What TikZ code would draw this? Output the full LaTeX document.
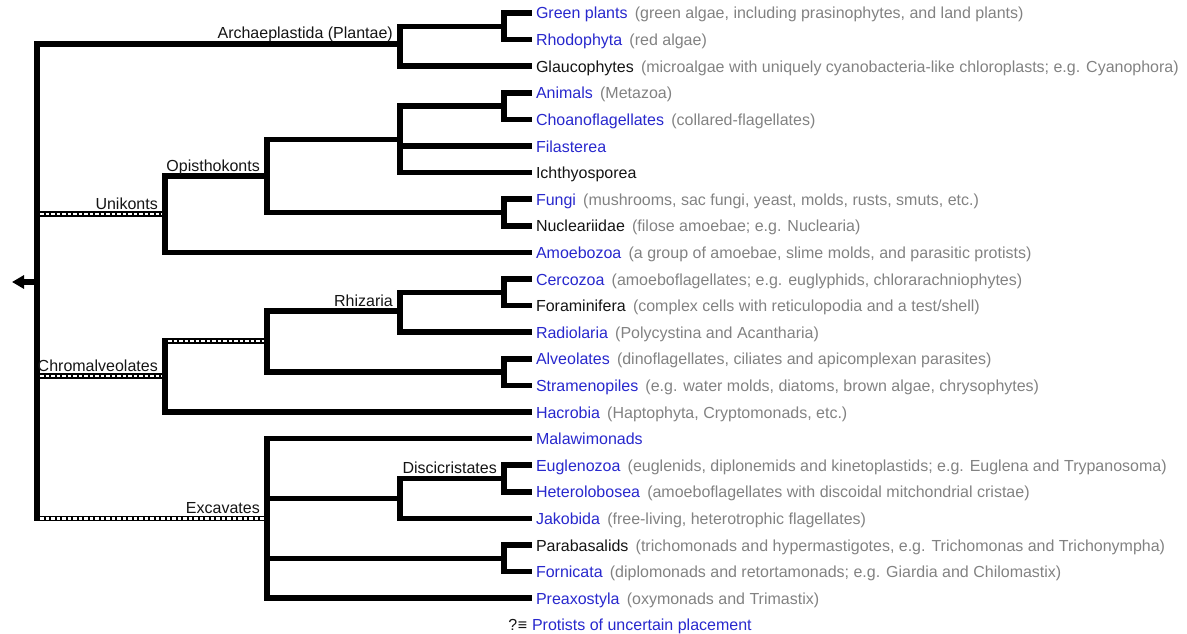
\documentclass[tikz,border=0pt]{standalone}
\usepackage{fontspec}
\setmainfont{Liberation Sans}
\usepackage{tikz}
\usetikzlibrary{arrows.meta, calc}
\definecolor{nameblue}{RGB}{40,40,205}
\definecolor{descgray}{RGB}{130,130,130}
\definecolor{nameblack}{RGB}{20,20,20}
\newcommand{\bluetaxon}[2]{\textcolor{nameblue}{#1}\hspace{0.45em}\textcolor{descgray}{#2}}
\newcommand{\blacktaxon}[2]{\textcolor{nameblack}{#1}\hspace{0.45em}\textcolor{descgray}{#2}}

\begin{document}
\begin{tikzpicture}[
    x=1pt, y=-1pt,
    font=\fontsize{16}{19}\selectfont,
    branch/.style={draw, line width=5.5pt, line cap=rect},
    hatch/.style={draw, line width=5.5pt,
        postaction={draw=white, line width=2.4pt, dash pattern=on 3.5pt off 2pt,
                    shorten <=3pt, shorten >=3pt}},
    leaf/.style={anchor=west, inner xsep=7pt, inner ysep=0pt, outer sep=0pt, text height=15pt, text depth=3pt},
    clade/.style={anchor=base east, inner sep=0pt, xshift=-7pt, yshift=5pt, text=nameblack}
]
\useasboundingbox (0,0) rectangle (1187,634);

% Clade nodes
\coordinate (root) at (37,282);
\coordinate (tip) at (12,282);
\coordinate (arch) at (400,44);
\coordinate (gpr) at (504,26.3);
\coordinate (unik) at (165,214);
\coordinate (opis) at (267,176);
\coordinate (holo) at (400,139.4);
\coordinate (anch) at (504,106.1);
\coordinate (funu) at (504,212.5);
\coordinate (chrom) at (165,376);
\coordinate (sar) at (267,341);
\coordinate (rhiz) at (400,311);
\coordinate (ceFo) at (504,292.3);
\coordinate (alst) at (504,372.1);
\coordinate (exca) at (267,518.4);
\coordinate (djak) at (400,498.5);
\coordinate (disc) at (504,478.5);
\coordinate (meta) at (504,558.3);

% Leaves
\node[leaf] (green) at (529,13) {\bluetaxon{Green plants}{(green algae, including prasinophytes, and land plants)}};
\node[leaf] (rhodo) at (529,39.6) {\bluetaxon{Rhodophyta}{(red algae)}};
\node[leaf] (glau) at (529,66.2) {\blacktaxon{Glaucophytes}{(microalgae with uniquely cyanobacteria-like chloroplasts; e.g. Cyanophora)}};
\node[leaf] (anim) at (529,92.8) {\bluetaxon{Animals}{(Metazoa)}};
\node[leaf] (choano) at (529,119.4) {\bluetaxon{Choanoflagellates}{(collared-flagellates)}};
\node[leaf] (fila) at (529,146) {\textcolor{nameblue}{Filasterea}};
\node[leaf] (ichth) at (529,172.6) {\textcolor{nameblack}{Ichthyosporea}};
\node[leaf] (fungi) at (529,199.2) {\bluetaxon{Fungi}{(mushrooms, sac fungi, yeast, molds, rusts, smuts, etc.)}};
\node[leaf] (nucl) at (529,225.8) {\blacktaxon{Nucleariidae}{(filose amoebae; e.g. Nuclearia)}};
\node[leaf] (amoe) at (529,252.4) {\bluetaxon{Amoebozoa}{(a group of amoebae, slime molds, and parasitic protists)}};
\node[leaf] (cerco) at (529,279) {\bluetaxon{Cercozoa}{(amoeboflagellates; e.g. euglyphids, chlorarachniophytes)}};
\node[leaf] (foram) at (529,305.6) {\blacktaxon{Foraminifera}{(complex cells with reticulopodia and a test/shell)}};
\node[leaf] (radio) at (529,332.2) {\bluetaxon{Radiolaria}{(Polycystina and Acantharia)}};
\node[leaf] (alveo) at (529,358.8) {\bluetaxon{Alveolates}{(dinoflagellates, ciliates and apicomplexan parasites)}};
\node[leaf] (stram) at (529,385.4) {\bluetaxon{Stramenopiles}{(e.g. water molds, diatoms, brown algae, chrysophytes)}};
\node[leaf] (hacro) at (529,412) {\bluetaxon{Hacrobia}{(Haptophyta, Cryptomonads, etc.)}};
\node[leaf] (mala) at (529,438.6) {\textcolor{nameblue}{Malawimonads}};
\node[leaf] (eugl) at (529,465.2) {\bluetaxon{Euglenozoa}{(euglenids, diplonemids and kinetoplastids; e.g. Euglena and Trypanosoma)}};
\node[leaf] (hete) at (529,491.8) {\bluetaxon{Heterolobosea}{(amoeboflagellates with discoidal mitchondrial cristae)}};
\node[leaf] (jako) at (529,518.4) {\bluetaxon{Jakobida}{(free-living, heterotrophic flagellates)}};
\node[leaf] (para) at (529,545) {\blacktaxon{Parabasalids}{(trichomonads and hypermastigotes, e.g. Trichomonas and Trichonympha)}};
\node[leaf] (forn) at (529,571.6) {\bluetaxon{Fornicata}{(diplomonads and retortamonads; e.g. Giardia and Chilomastix)}};
\node[leaf] (prea) at (529,598.2) {\bluetaxon{Preaxostyla}{(oxymonads and Trimastix)}};
\node[leaf] (uncertain) at (525,624.8) {\llap{\textcolor{nameblack}{?\kern0.5pt≡}\hspace{0.3em}}\textcolor{nameblue}{Protists of uncertain placement}};

% Hatched branches
\draw[hatch] (root |- unik) -- (unik);
\draw[hatch] (root |- chrom) -- (chrom);
\draw[hatch] (chrom |- sar) -- (sar);
\draw[hatch] (root |- exca) -- (exca);

% Root
\draw[branch, -{Triangle[length=12pt, width=13pt]}] (root) -- (tip);
\draw[branch] (root) |- (arch);
\draw[branch] (root) -- (root |- exca);

% Archaeplastida
\draw[branch] (arch) |- (gpr);
\draw[branch] (arch) |- (glau.west);
\draw[branch] (gpr) |- (green.west);
\draw[branch] (gpr) |- (rhodo.west);

% Unikonts
\draw[branch] (unik) |- (opis);
\draw[branch] (unik) |- (amoe.west);
\draw[branch] (opis) |- (holo);
\draw[branch] (opis) |- (funu);
\draw[branch] (holo) |- (anch);
\draw[branch] (holo) |- (fila.west);
\draw[branch] (holo) |- (ichth.west);
\draw[branch] (anch) |- (anim.west);
\draw[branch] (anch) |- (choano.west);
\draw[branch] (funu) |- (fungi.west);
\draw[branch] (funu) |- (nucl.west);

% Chromalveolates
\draw[branch] (chrom) -- (chrom |- sar);
\draw[branch] (chrom) |- (hacro.west);
\draw[branch] (sar) |- (rhiz);
\draw[branch] (sar) |- (alst);
\draw[branch] (rhiz) |- (ceFo);
\draw[branch] (rhiz) |- (radio.west);
\draw[branch] (ceFo) |- (cerco.west);
\draw[branch] (ceFo) |- (foram.west);
\draw[branch] (alst) |- (alveo.west);
\draw[branch] (alst) |- (stram.west);

% Excavates
\draw[branch] (exca) |- (mala.west);
\draw[branch] (exca) |- (djak);
\draw[branch] (exca) |- (meta);
\draw[branch] (exca) |- (prea.west);
\draw[branch] (djak) |- (disc);
\draw[branch] (djak) |- (jako.west);
\draw[branch] (disc) |- (eugl.west);
\draw[branch] (disc) |- (hete.west);
\draw[branch] (meta) |- (para.west);
\draw[branch] (meta) |- (forn.west);

% Clade labels
\node[clade] (archL) at (arch) {Archaeplastida (Plantae)};
\node[clade] (unikL) at (unik) {Unikonts};
\node[clade] (opisL) at (opis) {Opisthokonts};
\node[clade] (chromL) at (chrom) {Chromalveolates};
\node[clade] (rhizL) at (rhiz) {Rhizaria};
\node[clade] (excaL) at (exca) {Excavates};
\node[clade] (discL) at (disc) {Discicristates};

\end{tikzpicture}
\end{document}
